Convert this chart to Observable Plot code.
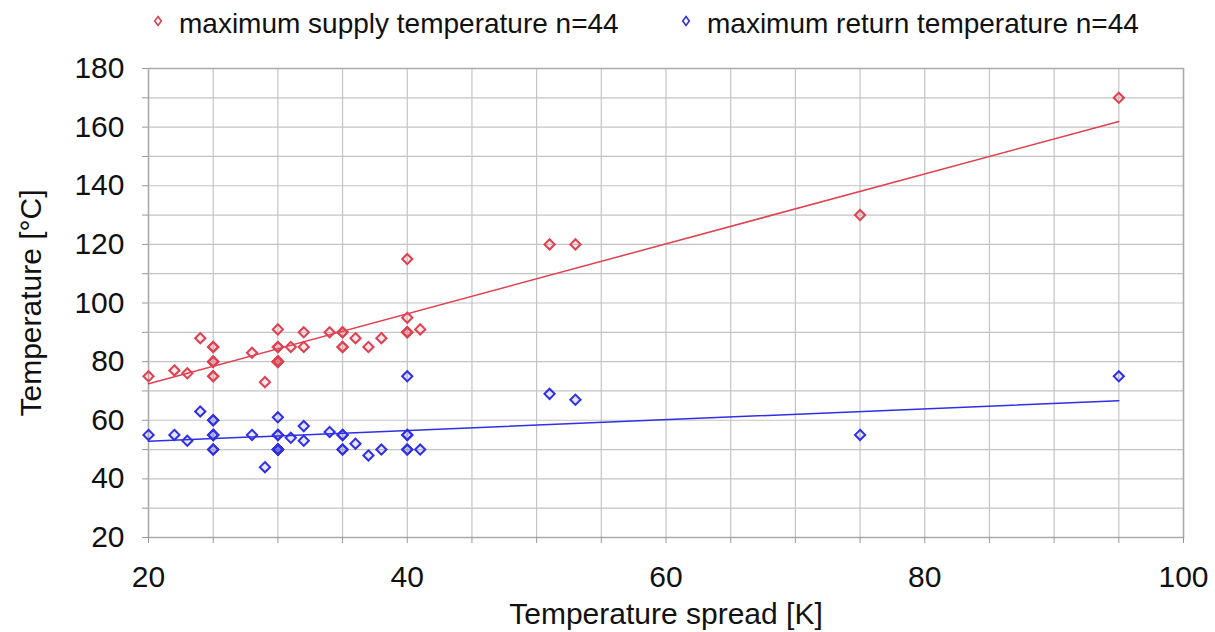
<!DOCTYPE html>
<html>
<head>
<meta charset="utf-8">
<script src="https://cdn.jsdelivr.net/npm/d3@7"></script>
<script src="https://cdn.jsdelivr.net/npm/@observablehq/plot@0.6"></script>
<style>
  html, body { margin: 0; padding: 0; background: #fff; }
  body { width: 1215px; height: 632px; overflow: hidden; font-family: "Liberation Sans", Arial, sans-serif; }
  #legend { position: relative; height: 48px; width: 1215px; }
  #legend .item { position: absolute; top: 6px; font-size: 28px; line-height: 36px; color: #111; white-space: nowrap; display: flex; align-items: center; }
  #legend svg { margin-right: 16px; margin-top: -6px; }
</style>
</head>
<body>
<div id="legend"></div>
<div id="chart"></div>
<script>
// ---- data ----
const seriesNames = ["maximum supply temperature n=44", "maximum return temperature n=44"];
const seriesColors = ["#e0404f", "#2f2fe6"];

// temperature spread [K] and maximum supply temperature [°C]
const supplySpread = [20,22,23,24,25,25,25,28,29,30,30,30,31,32,32,34,35,35,36,37,38,40,40,41,40,51,53,75,95,
                      30,30,30,30,30,25,25,35,40,25,30,35,30,25,40];
const supplyTemp   = [75,77,76,88,85,80,75,83,73,91,85,80,85,90,85,90,90,85,88,85,88,95,90,91,115,120,120,130,170,
                      80,80,80,80,80,80,85,90,90,75,85,85,80,80,90];

// temperature spread [K] and maximum return temperature [°C]
const returnSpread = [20,22,23,24,25,25,25,28,29,30,30,30,31,32,32,34,35,35,36,37,38,40,40,40,41,51,53,75,95,
                      30,30,30,30,30,30,25,25,25,35,40,30,35,25,40];
const returnTemp   = [55,55,53,63,60,55,50,55,44,61,55,50,54,58,53,56,55,50,52,48,50,75,55,50,50,69,67,55,75,
                      50,50,50,50,50,50,55,55,50,55,50,55,50,60,55];

// linear trend lines: [intercept, slope] and x-extent
const fitRange  = [20, 95];
const fitSupply = [48.6, 1.193];
const fitReturn = [49.1, 0.185];

// axes
const xTicks = [20, 40, 60, 80, 100];
const xMinor = [20,25,30,35,40,45,50,55,60,65,70,75,80,85,90,95,100];
const yTicks = [20, 40, 60, 80, 100, 120, 140, 160, 180];
const yMinor = [20,30,40,50,60,70,80,90,100,110,120,130,140,150,160,170,180];

// ---- build tables ----
const points = [
  ...supplySpread.map((x, i) => ({x, y: supplyTemp[i], s: seriesNames[0]})),
  ...returnSpread.map((x, i) => ({x, y: returnTemp[i], s: seriesNames[1]}))
];
const fits = [
  ...fitRange.map(x => ({x, y: fitSupply[0] + fitSupply[1] * x, s: seriesNames[0]})),
  ...fitRange.map(x => ({x, y: fitReturn[0] + fitReturn[1] * x, s: seriesNames[1]}))
];

// ---- legend ----
const legend = document.getElementById("legend");
const legendX = [153, 681];
seriesNames.forEach((name, i) => {
  const d = document.createElement("div");
  d.className = "item";
  d.style.left = legendX[i] + "px";
  d.innerHTML = `<svg width="10" height="12" viewBox="-5 -6 10 12"><path d="M0,-4.5L3.3,0L0,4.5L-3.3,0Z" fill="#fff" stroke="${seriesColors[i]}" stroke-width="1.6"/></svg>${name}`;
  legend.appendChild(d);
});

// ---- chart ----
const chart = Plot.plot({
  width: 1215,
  height: 584,
  marginTop: 20,
  marginLeft: 148,
  marginRight: 32,
  marginBottom: 95,
  style: {fontFamily: "'Liberation Sans', Arial, sans-serif", fontSize: "33px", color: "#111", background: "#fff"},
  x: {domain: [20, 100]},
  y: {domain: [20, 180]},
  color: {domain: seriesNames, range: seriesColors},
  marks: [
    Plot.gridX(xMinor, {stroke: "#c4c4c4", strokeOpacity: 1, strokeWidth: 1.2}),
    Plot.gridY(yMinor, {stroke: "#c4c4c4", strokeOpacity: 1, strokeWidth: 1.2}),
    Plot.frame({stroke: "#aaa", strokeWidth: 1.5}),
    Plot.axisX({ticks: xMinor, tickFormat: () => "", tickSize: 6, stroke: "#999", label: null}),
    Plot.axisX({ticks: xTicks, tickSize: 0, tickPadding: 28, fontSize: 30, fill: "#111",
                label: "Temperature spread [K]", labelAnchor: "center", labelArrow: "none", labelOffset: 86}),
    Plot.axisY({ticks: yMinor, tickFormat: () => "", tickSize: 6, stroke: "#999", label: null}),
    Plot.axisY({ticks: yTicks, tickSize: 0, tickPadding: 24, fontSize: 30, fill: "#111",
                label: "Temperature [°C]", labelAnchor: "center", labelArrow: "none", labelOffset: 129}),
    Plot.line(fits, {x: "x", y: "y", z: "s", stroke: "s", strokeWidth: 1.5}),
    Plot.dot(points, {x: "x", y: "y", stroke: "s", fill: "s", fillOpacity: 0.12, symbol: "diamond2", r: 4.6, strokeWidth: 2})
  ]
});
document.getElementById("chart").appendChild(chart);
</script>
</body>
</html>
